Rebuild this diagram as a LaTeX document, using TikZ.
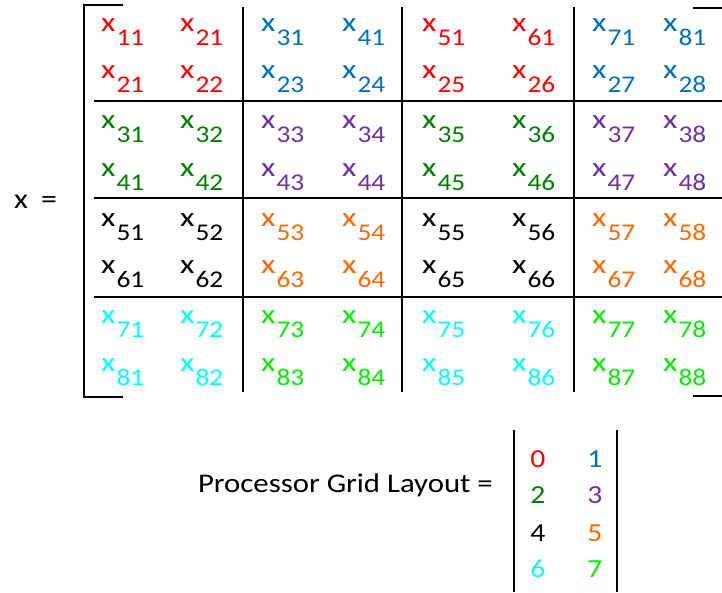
\documentclass[tikz,border=0pt]{standalone}
\usepackage{fontspec}
\setmainfont{Carlito}[FakeStretch=1.14]
\usepackage{xcolor}
\usepackage{tikz}
\usetikzlibrary{calc}

\definecolor{pc0}{RGB}{255,0,0}
\definecolor{pc1}{RGB}{0,112,192}
\definecolor{pc2}{RGB}{0,128,0}
\definecolor{pc3}{RGB}{112,48,160}
\definecolor{pc4}{RGB}{0,0,0}
\definecolor{pc5}{RGB}{255,102,0}
\definecolor{pc6}{RGB}{0,255,255}
\definecolor{pc7}{RGB}{0,240,0}

\newcommand{\xsub}[1]{\scalebox{1.08}[1]{x}\kern1pt\raisebox{-14pt}{\fontsize{24}{28}\selectfont #1}}

\begin{document}
\begin{tikzpicture}[x=1pt, y=-1pt,
                entry/.style={anchor=base west, inner sep=0pt, font=\fontsize{27}{30}\selectfont},
                digit/.style={anchor=base, inner sep=0pt, font=\fontsize{26}{30}\selectfont},
                label/.style={inner sep=0pt, font=\fontsize{28}{32}\selectfont},
                sep/.style={line width=2pt},
                bracket/.style={line width=2pt}
            ]
                \useasboundingbox (0,0) rectangle (722,592);

                % Nodes: matrix entries, coloured by owning processor
                \foreach \r/\yr in {1/31,2/78.5,3/128.5,4/176,5/226,6/273.5,7/323.5,8/371} {
                    \foreach \c/\xc in {1/101,2/180,3/261,4/342,5/422,6/512,7/592,8/663} {
                        \pgfmathtruncatemacro{\p}{2*int((\r-1)/2)+mod(int((\c-1)/2),2)}
                        \ifnum\r=1 \edef\lab{\c1}\else\edef\lab{\r\c}\fi
                        \node[entry, text=pc\p] (e\r\c) at (\xc,\yr) {\xsub{\lab}};
                    }
                }

                \node[label, anchor=base west] (xlab) at (14,208) {x\hspace{6pt} =};

                % Paths: bracket
                \draw[bracket] (123,5) -- (84,5) -- (84,397) -- (123,397);
                \draw[bracket] (693,8) -- (722,8);
                \draw[bracket] (693,396) -- (722,396);

                % Paths: block separators
                \foreach \xs in {243,402,574} {
                    \draw[sep] (\xs,7) -- (\xs,392);
                }
                \foreach \ys in {100.5,198,297} {
                    \draw[sep] (94,\ys) -- (722,\ys);
                }

                % Processor grid
                \node[label, anchor=base east, font=\fontsize{27}{32}\selectfont] (pgl) at (493,492) {Processor Grid Layout =};
                \foreach \p/\xp/\yp in {0/538/467,1/595/467,2/538/503,3/595/503,4/538/541,5/595/541,6/538/577,7/595/577} {
                    \node[digit, text=pc\p] (p\p) at (\xp,\yp) {\p};
                }
                \draw[bracket] (514,430) -- (514,592);
                \draw[bracket] (617,430) -- (617,592);
            \end{tikzpicture}
\end{document}
